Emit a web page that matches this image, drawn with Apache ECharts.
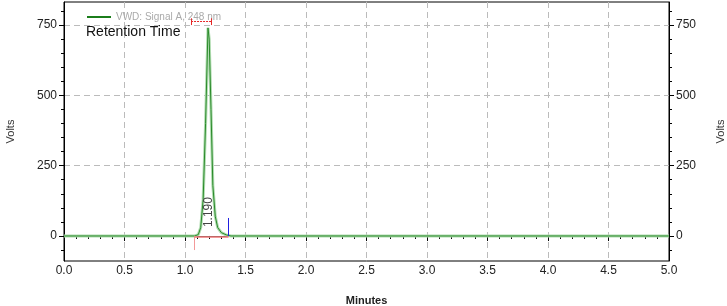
<!DOCTYPE html>
<html>
<head>
<meta charset="utf-8">
<script src="https://cdn.jsdelivr.net/npm/echarts@6/dist/echarts.min.js"></script>
<style>
html,body{margin:0;padding:0;background:#fff;}
#chart{width:727px;height:306px;}
</style>
</head>
<body>
<div id="chart"></div>
<script>
// signal trace (minutes, volts)
const minutes = [0, 0.5, 1.0, 1.08, 1.11, 1.13, 1.15, 1.17, 1.19, 1.20, 1.215, 1.23, 1.25, 1.27, 1.30, 1.34, 1.38, 1.5, 2.0, 2.5, 3.0, 3.5, 4.0, 4.5, 5.0];
const volts   = [0, 0, 0, 0, 5, 30, 130, 400, 740, 700, 450, 180, 70, 30, 12, 4, 0, 0, 0, 0, 0, 0, 0, 0, 0];

const xTickLabels = ['0.0','0.5','1.0','1.5','2.0','2.5','3.0','3.5','4.0','4.5','5.0'];
const yMajor = [0, 250, 500, 750];
const yMinor = [-50, 50, 100, 150, 200, 300, 350, 400, 450, 550, 600, 650, 700, 800];

// peak annotations
const peakRt = 1.195;
const peakLabel = '1.190';
const peakLabelY = 85;
const windowStart = 1.05, windowEnd = 1.22, windowY = 762, windowCap = 12;
const baseStart = 1.08, baseEnd = 1.36, baseDrop = -50, blueTop = 64;

const FONT = "'Liberation Sans Narrow', 'Liberation Sans', Arial, sans-serif";

const trace = minutes.map((m, i) => [m, volts[i]]);

const chart = echarts.init(document.getElementById('chart'));

const yBase = {
  type: 'value', min: -89, max: 832,
  splitLine: {show: false}
};

const RED = '#e62828';

chart.setOption({
  animation: false,
  textStyle: {fontFamily: FONT},
  title: {
    text: 'Retention Time', left: 86, top: 25, padding: 0,
    textStyle: {fontFamily: FONT, fontSize: 14, fontWeight: 'normal', color: '#111'}
  },
  legend: {
    left: 82, top: 7, icon: 'rect', itemWidth: 24, itemHeight: 2, itemGap: 4,
    data: ['VWD: Signal A, 248 nm'],
    textStyle: {fontFamily: FONT, fontSize: 10, color: '#aaa'}
  },
  grid: {
    left: 64, right: 58, top: 2, bottom: 45, containLabel: false, outerBoundsMode: 'none',
    show: true, borderColor: '#000', borderWidth: 1
  },
  xAxis: {
    type: 'value', min: 0, max: 5, interval: 0.5,
    name: 'Minutes', nameLocation: 'middle', nameGap: 34,
    nameTextStyle: {fontFamily: FONT, fontSize: 11, color: '#222', fontWeight: 'bold'},
    axisLine: {lineStyle: {color: '#000'}},
    axisTick: {length: 5, lineStyle: {color: '#000'}},
    minorTick: {show: true, splitNumber: 5, length: 3, lineStyle: {color: '#000'}},
    axisLabel: {margin: 4, fontSize: 12, color: '#222', formatter: v => xTickLabels[Math.round(v / 0.5)]},
    splitLine: {show: true, lineStyle: {color: '#bbb', type: [6, 4]}}
  },
  yAxis: [
    Object.assign({}, yBase, {
      position: 'left',
      name: 'Volts', nameLocation: 'middle', nameGap: 48, nameRotate: 90,
      nameTextStyle: {fontFamily: FONT, fontSize: 11, color: '#333'},
      axisLine: {show: true, lineStyle: {color: '#000'}},
      axisTick: {show: true, length: 5, customValues: yMajor, lineStyle: {color: '#000'}},
      axisLabel: {customValues: yMajor, margin: 7, fontSize: 12, color: '#222'},
      splitLine: {show: true, lineStyle: {color: '#bbb', type: [6, 4]}}
    }),
    Object.assign({}, yBase, {
      position: 'left',
      axisLine: {show: false},
      axisTick: {show: true, length: 3, customValues: yMinor, lineStyle: {color: '#000'}},
      axisLabel: {show: false}
    }),
    Object.assign({}, yBase, {
      position: 'right',
      name: 'Volts', nameLocation: 'middle', nameGap: 46, nameRotate: 90,
      nameTextStyle: {fontFamily: FONT, fontSize: 11, color: '#333'},
      axisLine: {show: true, lineStyle: {color: '#000'}},
      axisTick: {show: true, length: 5, customValues: yMajor, lineStyle: {color: '#000'}},
      axisLabel: {customValues: yMajor, margin: 7, fontSize: 12, color: '#222'}
    }),
    Object.assign({}, yBase, {
      position: 'right',
      axisLine: {show: false},
      axisTick: {show: true, length: 3, customValues: yMinor, lineStyle: {color: '#000'}},
      axisLabel: {show: false}
    })
  ],
  series: [
    {
      name: 'band', type: 'line', data: trace, symbol: 'none',
      lineStyle: {color: '#b0dcb0', width: 3}, silent: true, z: 2
    },
    {
      name: 'VWD: Signal A, 248 nm', type: 'line', data: trace, symbol: 'none',
      color: '#1b7d1b',
      lineStyle: {color: '#2a8a2a', width: 1}, z: 3,
      markPoint: {
        symbol: 'circle', symbolSize: 0,
        label: {show: true, position: 'inside', rotate: 90, formatter: peakLabel, fontFamily: FONT, fontSize: 12, color: '#444'},
        data: [{coord: [peakRt, peakLabelY]}]
      }
    },
    {
      type: 'lines', coordinateSystem: 'cartesian2d', silent: true, z: 5,
      color: RED,
      lineStyle: {color: RED, width: 1, opacity: 1},
      data: [
        {coords: [[windowStart, windowY - windowCap], [windowStart, windowY + windowCap]], lineStyle: {color: RED}},
        {coords: [[windowEnd, windowY - windowCap], [windowEnd, windowY + windowCap]], lineStyle: {color: RED}},
        {coords: [[windowStart, windowY], [windowEnd, windowY]], lineStyle: {color: RED, type: [2, 1]}}
      ]
    },
    {
      type: 'lines', coordinateSystem: 'cartesian2d', silent: true, z: 5,
      color: '#f08080',
      lineStyle: {color: '#f08080', width: 2, opacity: 0.8},
      data: [
        {coords: [[baseStart, -2], [baseEnd, -2]], lineStyle: {color: '#f08080'}},
        {coords: [[baseStart, 0], [baseStart, baseDrop]], lineStyle: {color: '#f08080', width: 1}}
      ]
    },
    {
      type: 'lines', coordinateSystem: 'cartesian2d', silent: true, z: 5,
      color: '#2020e0',
      lineStyle: {color: '#2020e0', width: 1, opacity: 1},
      data: [
        {coords: [[baseEnd, 0], [baseEnd, blueTop]], lineStyle: {color: '#2020e0'}}
      ]
    }
  ]
});
</script>
</body>
</html>
